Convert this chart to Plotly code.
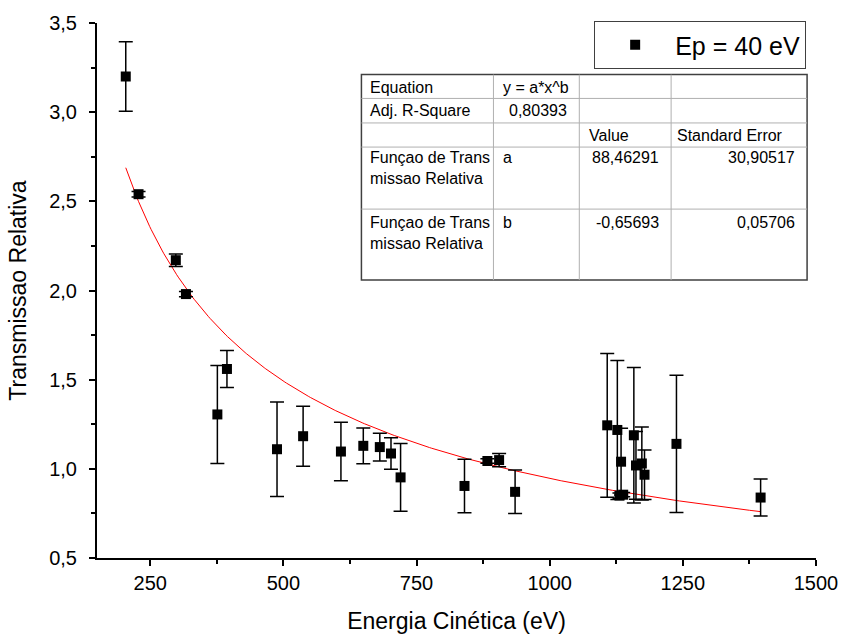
import numpy as np
import plotly.graph_objects as go

# ---------------- data ----------------
energy = [204, 228, 298, 317, 376, 394, 488, 537, 608, 650, 681, 702, 720,
          840, 883, 905, 935, 1108, 1127, 1134, 1131, 1138, 1158, 1162, 1173, 1178, 1238, 1396]
transm = [3.20, 2.54, 2.17, 1.98, 1.305, 1.56, 1.11, 1.183, 1.097, 1.129, 1.122, 1.086, 0.952,
          0.904, 1.044, 1.049, 0.871, 1.244, 1.218, 1.040, 0.850, 0.855, 1.188, 1.019, 1.030, 0.967, 1.140, 0.839]
transm_err = [0.195, 0.015, 0.035, 0.015, 0.275, 0.104, 0.265, 0.168, 0.164, 0.10, 0.078, 0.088, 0.19,
              0.15, 0.012, 0.037, 0.122, 0.403, 0.39, 0.187, 0.015, 0.012, 0.38, 0.19, 0.205, 0.139, 0.385, 0.104]

fit_a = 88.46291
fit_b = -0.65693

series_name = "Ep = 40 eV"
x_title = "Energia Cinética (eV)"
y_title = "Transmissao Relativa"

x_ticks = [250, 500, 750, 1000, 1250, 1500]
y_ticks = [0.5, 1.0, 1.5, 2.0, 2.5, 3.0, 3.5]

table_rows = [
    ["Equation", "y = a*x^b", "", ""],
    ["Adj. R-Square", "0,80393", "", ""],
    ["", "", "Value", "Standard Error"],
    ["Funçao de Trans<br>missao Relativa", "a", "88,46291", "30,90517"],
    ["Funçao de Trans<br>missao Relativa", "b", "-0,65693", "0,05706"],
]
# right-aligned cells (numbers)
table_right = [
    [False, False, False, False],
    [False, True, False, False],
    [False, False, False, False],
    [False, False, True, True],
    [False, False, True, True],
]

# ---------------- layout geometry (pixels) ----------------
W, H = 850, 642
ML, MR, MT, MB = 97, 27, 20, 83
PW = W - ML - MR
PH = H - MT - MB


def px2paper_x(px):
    return (px - ML) / PW


def px2paper_y(py):
    return (H - MB - py) / PH


col_edges = [364, 497.3, 584, 676.7, 814]
row_edges = [72, 96, 120.7, 145, 207.5, 279]
left_pad = [7.5, 8.5, 9, 4.5]
right_pad = 11
top_pad = [3, 3, 3, 1, 4]

FONT = "Liberation Sans, Arial, sans-serif"

fig = go.Figure()

# fitted curve
xc = np.linspace(min(energy), max(energy), 400)
yc = fit_a * xc ** fit_b
fig.add_trace(go.Scatter(x=xc, y=yc, mode="lines", line=dict(color="red", width=1),
                         showlegend=False, hoverinfo="skip"))

fig.add_trace(go.Scatter(
    x=energy, y=transm, mode="markers", name=series_name,
    marker=dict(symbol="square", size=10, color="black"),
    error_y=dict(type="data", array=transm_err, color="black", thickness=1.5, width=7),
))

shapes = []
shapes.append(dict(type="rect", xref="paper", yref="paper",
                   x0=px2paper_x(col_edges[0]), x1=px2paper_x(col_edges[-1]),
                   y0=px2paper_y(row_edges[-1]), y1=px2paper_y(row_edges[0]),
                   fillcolor="white", line=dict(color="#404040", width=1.5), layer="above"))
for xe in col_edges[1:-1]:
    shapes.append(dict(type="line", xref="paper", yref="paper",
                       x0=px2paper_x(xe), x1=px2paper_x(xe),
                       y0=px2paper_y(row_edges[-1]), y1=px2paper_y(row_edges[0]),
                       line=dict(color="#b0b0b0", width=1), layer="above"))
for ye in row_edges[1:-1]:
    shapes.append(dict(type="line", xref="paper", yref="paper",
                       x0=px2paper_x(col_edges[0]), x1=px2paper_x(col_edges[-1]),
                       y0=px2paper_y(ye), y1=px2paper_y(ye),
                       line=dict(color="#b0b0b0", width=1), layer="above"))

annotations = []
for r, row in enumerate(table_rows):
    for c, txt in enumerate(row):
        if not txt:
            continue
        if table_right[r][c]:
            xp = px2paper_x(col_edges[c + 1] - right_pad)
            xa = "right"
        else:
            xp = px2paper_x(col_edges[c] + left_pad[c])
            xa = "left"
        annotations.append(dict(
            text=txt, xref="paper", yref="paper", x=xp, y=px2paper_y(row_edges[r] + top_pad[r]),
            xanchor=xa, yanchor="top", align=xa, showarrow=False, borderpad=0,
            font=dict(family=FONT, size=16, color="black")))

fig.update_layout(
    width=W, height=H,
    margin=dict(l=ML, r=MR, t=MT, b=MB),
    paper_bgcolor="white", plot_bgcolor="white",
    separators=",.",
    font=dict(family=FONT, color="black"),
    shapes=shapes, annotations=annotations,
    showlegend=True,
    legend=dict(x=px2paper_x(599), y=px2paper_y(18), xanchor="left", yanchor="top",
                bordercolor="#404040", borderwidth=1, bgcolor="white",
                font=dict(family=FONT, size=25, color="black"),
                itemwidth=70),
    xaxis=dict(range=[150, 1500], tickmode="array", tickvals=x_ticks, tickformat="d",
               showgrid=False, zeroline=False, showline=True, linecolor="black", linewidth=2,
               ticks="outside", ticklen=6, tickwidth=2, tickcolor="black",
               tickfont=dict(family=FONT, size=20, color="black"),
               minor=dict(dtick=125, tick0=0, ticks="outside", ticklen=4, tickwidth=2, tickcolor="black"),
               title=dict(text=x_title, font=dict(family=FONT, size=23, color="black"), standoff=20)),
    yaxis=dict(range=[0.5, 3.5], tickmode="array", tickvals=y_ticks, tickformat=".1f",
               showgrid=False, zeroline=False, showline=True, linecolor="black", linewidth=2,
               ticks="outside", ticklen=6, tickwidth=2, tickcolor="black",
               tickfont=dict(family=FONT, size=20, color="black"),
               ticklabelstandoff=8,
               minor=dict(dtick=0.25, tick0=0, ticks="outside", ticklen=4, tickwidth=2, tickcolor="black"),
               title=dict(text=y_title, font=dict(family=FONT, size=23, color="black"), standoff=16)),
)

fig.write_html("out.html")
